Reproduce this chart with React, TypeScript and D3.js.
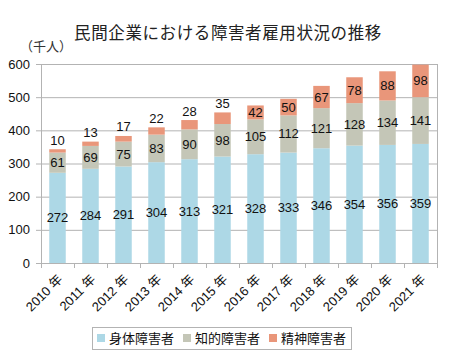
import React from "react";
import * as d3 from "d3";

const years = ["2010", "2011", "2012", "2013", "2014", "2015", "2016", "2017", "2018", "2019", "2020", "2021"];
const physical = [272, 284, 291, 304, 313, 321, 328, 333, 346, 354, 356, 359];
const intellectual = [61, 69, 75, 83, 90, 98, 105, 112, 121, 128, 134, 141];
const mental = [10, 13, 17, 22, 28, 35, 42, 50, 67, 78, 88, 98];
const seriesNames = ["身体障害者", "知的障害者", "精神障害者"];
const colors = ["#ADD8E6", "#C4C6B7", "#E9967A"];
const yTicks = [0, 100, 200, 300, 400, 500, 600];

const W = 450;
const H = 360;
const left = 41;
const right = 437;
const top = 64;
const bottom = 263;
const FONT = "'Liberation Sans', Arial, 'Noto Sans CJK JP', sans-serif";

export default function App() {
  const x = d3.scaleBand<string>().domain(years).range([left, right]).paddingInner(0.5).paddingOuter(0.25);
  const y = d3.scaleLinear().domain([0, 600]).range([bottom, top]);
  const rows = years.map((yr, i) => ({ year: yr, p: physical[i], n: intellectual[i], m: mental[i] }));
  const stack = d3.stack<any>().keys(["p", "n", "m"])(rows as any);
  const step = (right - left) / years.length;

  return (
    <svg width={W} height={H} style={{ position: "absolute", left: 0, top: 0, fontFamily: FONT }}>
      <rect x={0} y={0} width={W} height={H} fill="#fff" />
      <text x={228} y={39} textAnchor="middle" fontSize={16.5} fill="#222" letterSpacing={0.6}>
        民間企業における障害者雇用状況の推移
      </text>
      <text x={20} y={51} fontSize={13} fill="#333">（千人）</text>
      {yTicks.map((t) => (
        <g key={t}>
          <line x1={36} x2={right} y1={y(t) + 0.5} y2={y(t) + 0.5} stroke="#b3b3b3" />
          <text x={30} y={y(t)} textAnchor="end" dominantBaseline="central" fontSize={13} fill="#111">{t}</text>
        </g>
      ))}
      <line x1={left + 0.5} x2={left + 0.5} y1={top} y2={bottom + 5} stroke="#b3b3b3" />
      <line x1={right + 0.5} x2={right + 0.5} y1={top} y2={bottom + 5} stroke="#b3b3b3" />
      {years.map((yr, i) => (
        <line key={yr} x1={left + step * (i + 1) + 0.5} x2={left + step * (i + 1) + 0.5} y1={bottom} y2={bottom + 5} stroke="#b3b3b3" />
      ))}
      {stack.map((s, si) => (
        <g key={si}>
          {s.map((d: any, i: number) => (
            <rect key={i} x={x(years[i])} width={x.bandwidth()} y={y(d[1])} height={y(d[0]) - y(d[1])} fill={colors[si]} />
          ))}
        </g>
      ))}
      {stack.map((s, si) => (
        <g key={"l" + si}>
          {s.map((d: any, i: number) => {
            const h = y(d[0]) - y(d[1]);
            const cx = (x(years[i]) as number) + x.bandwidth() / 2;
            const cy = h < 13 ? y(d[1]) - 9 : (y(d[0]) + y(d[1])) / 2;
            return (
              <text key={i} x={cx} y={cy} textAnchor="middle" dominantBaseline="central" fontSize={13} fill="#111">
                {d[1] - d[0]}
              </text>
            );
          })}
        </g>
      ))}
      {years.map((yr) => {
        const cx = (x(yr) as number) + x.bandwidth() / 2 + 6;
        const cy = bottom + 17;
        return (
          <text key={yr} x={cx} y={cy} textAnchor="end" fontSize={13} fill="#111" transform={`rotate(-45 ${cx} ${cy})`}>
            {yr}{"\u00a0"}年
          </text>
        );
      })}
      <rect x={92.5} y={327.5} width={259} height={22} fill="none" stroke="#b3b3b3" />
      {seriesNames.map((nm, i) => (
        <g key={nm} transform={`translate(${97 + i * 86},0)`}>
          <rect x={0} y={334} width={8} height={8} fill={colors[i]} />
          <text x={12} y={338.5} dominantBaseline="central" fontSize={13} fill="#111">{nm}</text>
        </g>
      ))}
    </svg>
  );
}
